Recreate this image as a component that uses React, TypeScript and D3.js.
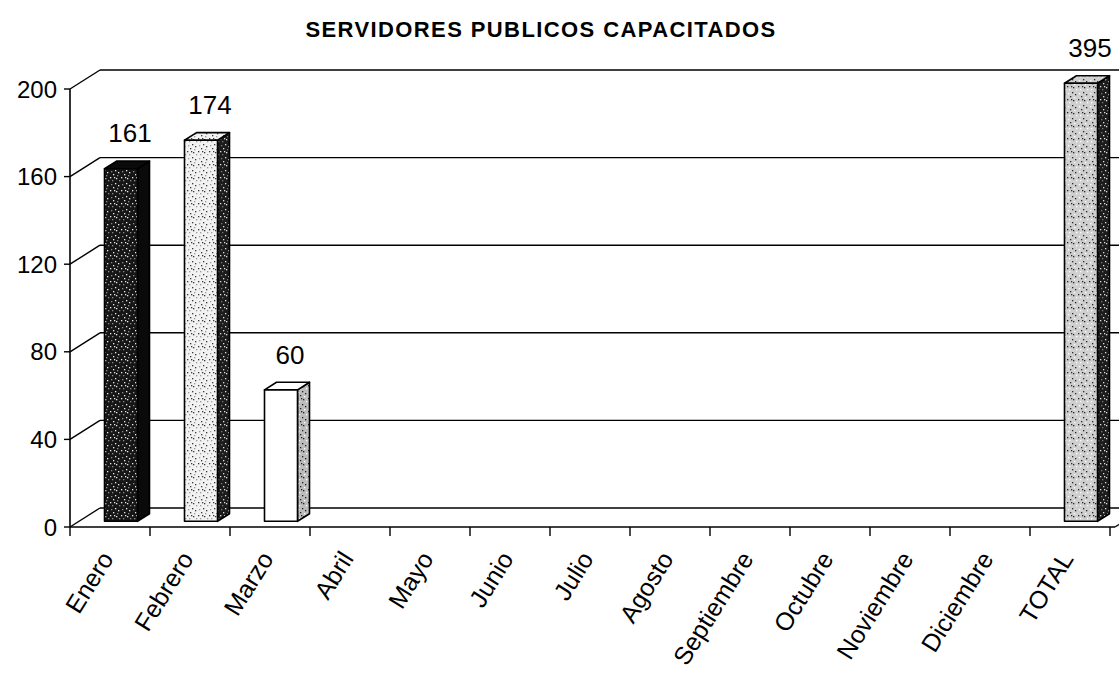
import React from 'react'
import * as d3 from 'd3'

const title = 'SERVIDORES PUBLICOS CAPACITADOS'
const months = ['Enero', 'Febrero', 'Marzo', 'Abril', 'Mayo', 'Junio', 'Julio', 'Agosto', 'Septiembre', 'Octubre', 'Noviembre', 'Diciembre', 'TOTAL']
const values: (number | null)[] = [161, 174, 60, null, null, null, null, null, null, null, null, null, 395]
const yTicks = [0, 40, 80, 120, 160, 200]
// face fills per bar (front, side/top)
const frontFill = ['url(#dark)', 'url(#light)', '#ffffff', '', '', '', '', '', '', '', '', '', 'url(#gray)']
const sideFill = ['#0a0a0a', 'url(#darkside)', 'url(#grayside)', '', '', '', '', '', '', '', '', '', 'url(#darkside)']

const width = 1119
const height = 679
const depthX = 30
const depthY = -19
const font = '"Liberation Sans", Arial, sans-serif'

const x = d3.scaleBand<string>().domain(months).range([70, 1110]).paddingInner(0).paddingOuter(0)
const y = d3.scaleLinear().domain([0, 200]).range([527, 89])

// project a point at depth d (0 = front, 1 = back wall)
const pt = (px: number, py: number, d: number): [number, number] => [px + d * depthX, py + d * depthY]

function speckle(id: string, bg: string, dot: string, dot2: string) {
  // fixed dot layout for a scanned-print texture
  const dots = [[1, 2], [5, 1], [3, 5], [7, 6], [0, 8], [6, 9], [2, 11], [8, 3], [4, 8], [9, 11]]
  return (
    <pattern id={id} width={11} height={13} patternUnits="userSpaceOnUse">
      <rect width={11} height={13} fill={bg} />
      {dots.map((p, i) => (
        <rect key={i} x={p[0]} y={p[1]} width={1.3} height={1.3} fill={i % 3 === 0 ? dot2 : dot} />
      ))}
    </pattern>
  )
}

export default function App() {
  const maxV = 200
  const d0 = 0.3
  const d1 = 0.7
  const barW = 33

  return (
    <svg width={width} height={height} style={{ display: 'block', position: 'absolute', left: 0, top: 0, background: '#fff' }}>
      <defs>
        {speckle('dark', '#161616', '#e8e8e8', '#8a8a8a')}
        {speckle('light', '#f2f2f2', '#3a3a3a', '#9a9a9a')}
        {speckle('gray', '#cfcfcf', '#2a2a2a', '#ffffff')}
        {speckle('darkside', '#1c1c1c', '#dddddd', '#777777')}
        {speckle('grayside', '#bdbdbd', '#222222', '#ffffff')}
        <clipPath id="plot">
          <rect x={0} y={60} width={width} height={height - 60} />
        </clipPath>
      </defs>

      <text x={541} y={37} textAnchor="middle" fontFamily={font} fontWeight="bold" fontSize={22} letterSpacing={1.4}>{title}</text>

      {/* back wall grid + side wall diagonals */}
      {yTicks.map(t => {
        const [bx, by] = pt(x.range()[0], y(t), 1)
        const [fx, fy] = [x.range()[0], y(t)]
        return (
          <g key={t}>
            <line x1={bx} y1={by} x2={width} y2={by} stroke="#000" strokeWidth={1.4} />
            <line x1={fx} y1={fy} x2={bx} y2={by} stroke="#000" strokeWidth={1.4} />
            <line x1={fx - 6} y1={fy} x2={fx} y2={fy} stroke="#000" strokeWidth={1.4} />
            <text x={57} y={fy} dy="0.36em" textAnchor="end" fontFamily={font} fontSize={24}>{t}</text>
          </g>
        )
      })}

      {/* front axes */}
      <line x1={x.range()[0]} y1={y(0)} x2={x.range()[0]} y2={y(200)} stroke="#000" strokeWidth={1.6} />
      <line x1={x.range()[0]} y1={y(0)} x2={x.range()[1] + 5} y2={y(0)} stroke="#000" strokeWidth={1.6} />
      <line x1={x.range()[1] + 5} y1={y(0)} x2={x.range()[1] + 5 + depthX} y2={y(0) + depthY} stroke="#000" strokeWidth={1.4} />
      {months.map((m, i) => {
        const bx = x.range()[0] + i * x.step()
        return <line key={m} x1={bx} y1={y(0)} x2={bx} y2={y(0) + 9} stroke="#000" strokeWidth={1.4} />
      })}
      <line x1={x.range()[1]} y1={y(0)} x2={x.range()[1]} y2={y(0) + 9} stroke="#000" strokeWidth={1.4} />

      {/* bars */}
      <g clipPath="url(#plot)">
        {values.map((v, i) => {
          if (v == null) return null
          const cx = (x(months[i]) as number) + x.bandwidth() / 2 + 2
          const l = cx - barW / 2
          const r = cx + barW / 2
          const top = y(Math.min(v, maxV))
          const bot = y(0)
          const [fl, ft] = pt(l, top, d0)
          const [fr, fb] = pt(r, bot, d0)
          const [br, bt] = pt(r, top, d1)
          const [bl] = pt(l, top, d1)
          const [, bb] = pt(r, bot, d1)
          const side = `M${fr},${ft}L${br},${bt}L${br},${bb}L${fr},${fb}Z`
          const topFace = `M${fl},${ft}L${bl},${bt}L${br},${bt}L${fr},${ft}Z`
          return (
            <g key={months[i]} stroke="#000" strokeWidth={1.6} strokeLinejoin="round">
              <path d={side} fill={sideFill[i]} />
              <path d={topFace} fill={sideFill[i] === '#0a0a0a' ? '#0a0a0a' : frontFill[i]} />
              <rect x={fl} y={ft} width={fr - fl} height={fb - ft} fill={frontFill[i]} />
            </g>
          )
        })}
      </g>

      {/* value labels */}
      {values.map((v, i) => {
        if (v == null) return null
        const cx = (x(months[i]) as number) + x.bandwidth() / 2 + 20
        const ly = Math.max(y(Math.min(v, maxV)) - 32, 42)
        return (
          <text key={months[i]} x={cx} y={ly} textAnchor="middle" fontFamily={font} fontSize={26}>{v}</text>
        )
      })}

      {/* category labels */}
      {months.map(m => {
        const cx = (x(m) as number) + x.bandwidth() / 2 - 3
        const ly = y(0) + 27
        return (
          <text key={m} transform={`translate(${cx},${ly}) rotate(-58)`} textAnchor="end" dy="0.35em" fontFamily={font} fontSize={25}>{m}</text>
        )
      })}
    </svg>
  )
}
